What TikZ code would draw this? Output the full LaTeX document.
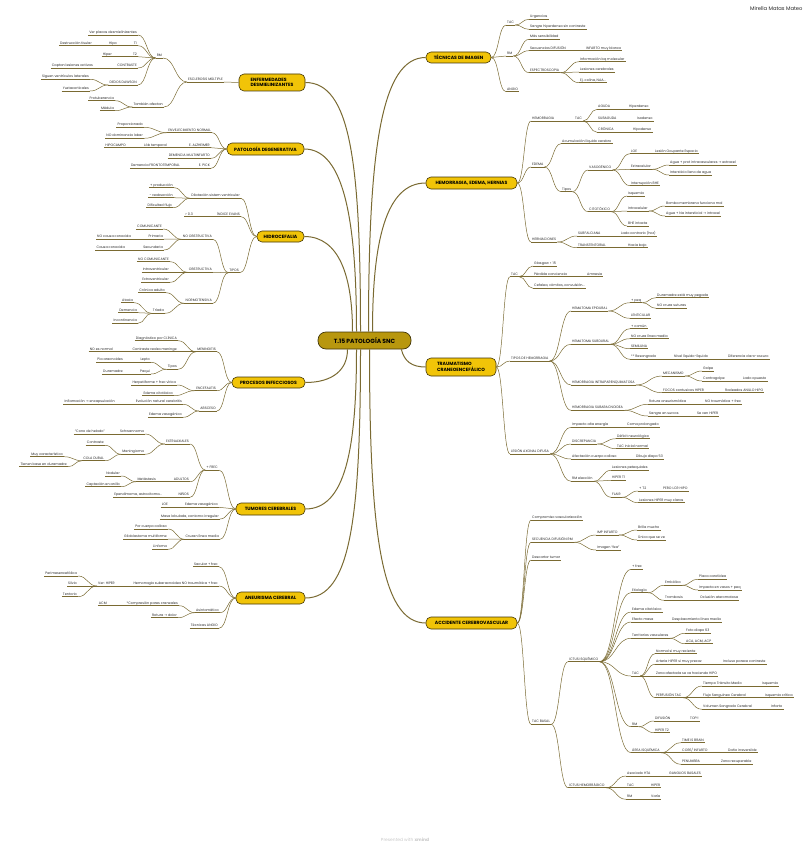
\documentclass[tikz,border=0pt]{standalone}
\usepackage{fontspec}
\setmainfont{Poppins}
\newfontfamily\arrowfont{DejaVu Sans}
\usetikzlibrary{calc}

\definecolor{branch}{RGB}{122,106,50}
\definecolor{topicfill}{RGB}{241,196,8}
\definecolor{topicline}{RGB}{66,54,8}
\definecolor{rootfill}{RGB}{184,151,14}
\definecolor{leaftext}{RGB}{40,40,40}

\newcommand\leafsize{\fontsize{3.4}{4}\selectfont}
\newcommand\topicsize{\fontsize{4.6}{5.6}\selectfont}
\newcommand\rootsize{\fontsize{6}{7}\selectfont}
\newcommand\toarrow{{\arrowfont →}}

\begin{document}
\begin{tikzpicture}[x=1pt, y=-1pt,
    leaf/.style={font=\leafsize, text=leaftext, inner xsep=1pt, inner ysep=0.7pt,
                 text height=2.5pt, text depth=0.6pt,
                 append after command={(\tikzlastnode.south west) edge[uline] (\tikzlastnode.south east)}},
    rleaf/.style={leaf, anchor=south west},
    lleaf/.style={leaf, anchor=south east},
    uline/.style={draw=branch, line width=0.5pt},
    link/.style={draw=branch, line width=0.5pt,
                 to path={let \p1=(\tikztostart), \p2=(\tikztotarget) in
                   .. controls ({0.5*\x1+0.5*\x2},\y1) and ({0.5*\x1+0.5*\x2},\y2) .. (\tikztotarget)}},
    mainlink/.style={draw=branch, line width=1pt},
    topic/.style={draw=topicline, line width=0.6pt, fill=topicfill, rounded corners=5pt,
                  font=\topicsize\bfseries, align=left, inner sep=0pt},
    rootbox/.style={draw=topicline, line width=0.7pt, fill=rootfill, rounded corners=8pt,
                    font=\rootsize\bfseries, minimum width=93pt, minimum height=17pt}
  ]
  \useasboundingbox (0,0) rectangle (809,848);

  % central topic and main branches
  \node[rootbox] (root) at (364.5,340.5) {T.15 PATOLOGÍA SNC};
  \node[topic, minimum width=65pt, minimum height=11pt] (tec) at (458.5,57.5) {TÉCNICAS DE IMAGEN};
  \node[topic, minimum width=91pt, minimum height=12pt] (hem) at (471.5,183) {HEMORRAGIA, EDEMA, HERNIAS};
  \node[topic, minimum width=70pt, minimum height=18pt] (tce) at (461,367) {TRAUMATISMO\\CRANEOENCEFÁLICO};
  \node[topic, minimum width=91pt, minimum height=12pt] (acv) at (471.5,623) {ACCIDENTE CEREBROVASCULAR};
  \node[topic, minimum width=66pt, minimum height=17pt] (desm) at (272,82.5) {ENFERMEDADES\\DESMIELINIZANTES};
  \node[topic, minimum width=77pt, minimum height=12pt] (deg) at (265.5,149) {PATOLOGÍA DEGENERATIVA};
  \node[topic, minimum width=47pt, minimum height=11pt] (hidro) at (280.5,236.5) {HIDROCEFALIA};
  \node[topic, minimum width=73pt, minimum height=11pt] (infec) at (268.5,382.5) {PROCESOS INFECCIOSOS};
  \node[topic, minimum width=69pt, minimum height=12pt] (tum) at (270.5,509) {TUMORES CEREBRALES};
  \node[topic, minimum width=69pt, minimum height=12pt] (aneu) at (270.5,598) {ANEURISMA CEREBRAL};

  \draw[mainlink] ([xshift=-4pt]root.north) .. controls +(0,-170) and +(45,0) .. (desm.east);
  \draw[mainlink] ([xshift=-8pt]root.north) .. controls +(0,-110) and +(40,0) .. (deg.east);
  \draw[mainlink] ([xshift=-12pt]root.north) .. controls +(0,-55) and +(35,0) .. (hidro.east);
  \draw[mainlink] ([xshift=4pt]root.north) .. controls +(0,-180) and +(-45,0) .. (tec.west);
  \draw[mainlink] ([xshift=8pt]root.north) .. controls +(0,-90) and +(-40,0) .. (hem.west);
  \draw[mainlink] ([xshift=-17pt]root.south) .. controls +(0,20) and +(28,0) .. (infec.east);
  \draw[mainlink] ([xshift=-8pt]root.south) .. controls +(0,100) and +(40,0) .. (tum.east);
  \draw[mainlink] ([xshift=-4pt]root.south) .. controls +(0,170) and +(45,0) .. (aneu.east);
  \draw[mainlink] ([xshift=5pt]root.south) .. controls +(0,180) and +(-45,0) .. (acv.west);
  \draw[mainlink] ([xshift=-10pt]root.south east) .. controls +(3,12) and +(-14,0) .. (tce.west);

  % enfermedades desmielinizantes
  \node[lleaf] (em) at (224,82) {ESCLEROSIS MÚLTIPLE};
  \node[lleaf] (rm) at (163,58) {RM};
  \node[lleaf] (afect) at (164,107) {También afectan};
  \node[lleaf] (placas) at (138,35) {Ver placas desmielinizantes};
  \node[lleaf] (tuno) at (138,45.7) {T1};
  \node[lleaf] (hipo) at (118,45.7) {Hipo};
  \node[lleaf] (destr) at (93,45.7) {Destrucción tisular};
  \node[lleaf] (tdos) at (138,56.7) {T2};
  \node[lleaf] (hiper) at (113,56.7) {Hiper};
  \node[lleaf] (contr) at (138,68) {CONTRASTE};
  \node[lleaf] (captan) at (94,68) {Captan lesiones activas};
  \node[lleaf] (dawson) at (138,85) {DEDOS DAWSON};
  \node[lleaf] (siguen) at (90,79.3) {Siguen ventrículos laterales};
  \node[lleaf] (yuxta) at (90,91) {Yuxtacorticales};
  \node[lleaf] (protu) at (115,100.7) {Protuberancia};
  \node[lleaf] (medula) at (115,110.7) {Médula};

  \draw[link] (desm.west) to (em.south east);
  \draw[link] (em.south west) to (rm.south east);
  \draw[link] (em.south west) to (afect.south east);
  \draw[link] (rm.south west) to (placas.south east);
  \draw[link] (rm.south west) to (tuno.south east);
  \draw[link] (rm.south west) to (tdos.south east);
  \draw[link] (rm.south west) to (contr.south east);
  \draw[link] (rm.south west) to (dawson.south east);
  \draw[link] (tuno.south west) to (hipo.south east);
  \draw[link] (hipo.south west) to (destr.south east);
  \draw[link] (tdos.south west) to (hiper.south east);
  \draw[link] (contr.south west) to (captan.south east);
  \draw[link] (dawson.south west) to (siguen.south east);
  \draw[link] (dawson.south west) to (yuxta.south east);
  \draw[link] (afect.south west) to (protu.south east);
  \draw[link] (afect.south west) to (medula.south east);

  % patologia degenerativa
  \node[lleaf] (envej) at (212,132.7) {ENVEJECIMIENTO NORMAL};
  \node[lleaf] (propor) at (144,127.3) {Proporcionado};
  \node[lleaf] (nodom) at (144,138.3) {NO dominancia lobar};
  \node[lleaf] (alzh) at (211,147.7) {E. ALZHEIMER};
  \node[lleaf] (lobt) at (168,147.7) {Lób temporal};
  \node[lleaf] (hipoc) at (127,147.7) {HIPOCAMPO};
  \node[lleaf] (multi) at (211,158.3) {DEMENCIA MULTIINFARTO};
  \node[lleaf] (pick) at (211,168.3) {E. PICK};
  \node[lleaf] (fronto) at (181,168.3) {Demencia FRONTOTEMPORAL};

  \draw[link] (deg.west) to (envej.south east);
  \draw[link] (deg.west) to (alzh.south east);
  \draw[link] (deg.west) to (multi.south east);
  \draw[link] (deg.west) to (pick.south east);
  \draw[link] (envej.south west) to (propor.south east);
  \draw[link] (envej.south west) to (nodom.south east);
  \draw[link] (alzh.south west) to (lobt.south east);
  \draw[link] (lobt.south west) to (hipoc.south east);
  \draw[link] (pick.south west) to (fronto.south east);

  % hidrocefalia
  \node[lleaf] (dilat) at (241,198.3) {Dilatación sistem ventricular};
  \node[lleaf] (prod) at (174,187.7) {+ producción};
  \node[lleaf] (reab) at (174,197.7) {- reabsorción};
  \node[lleaf] (dific) at (173,207.7) {Dificultad flujo};
  \node[lleaf] (evans) at (241,216.7) {ÍNDICE EVANS};
  \node[lleaf] (mayor) at (194,216.7) {> 0.3};
  \node[lleaf] (tipos) at (240,272.7) {TIPOS};
  \node[lleaf] (noobs) at (213,239.3) {NO OBSTRUCTIVA};
  \node[lleaf] (comun) at (163,229) {COMUNICANTE};
  \node[lleaf] (prim) at (164,239) {Primaria};
  \node[lleaf] (nocausa) at (132,239) {NO causa conocida};
  \node[lleaf] (secund) at (164,250) {Secundaria};
  \node[lleaf] (causa) at (126,250) {Causa conocida};
  \node[lleaf] (obs) at (213,272.3) {OBSTRUCTIVA};
  \node[lleaf] (nocom) at (170,261.7) {NO COMUNICANTE};
  \node[lleaf] (intrav) at (170,272.3) {Intraventricular};
  \node[lleaf] (extrav) at (170,282.3) {Extraventricular};
  \node[lleaf] (normo) at (213,303.3) {NORMOTENSIVA};
  \node[lleaf] (cronica) at (166,292.7) {Crónica adulto};
  \node[lleaf] (triada) at (165,313.3) {Tríada};
  \node[lleaf] (ataxia) at (134,302.7) {Ataxia};
  \node[lleaf] (demen) at (138,312.7) {Demencia};
  \node[lleaf] (incont) at (138,323.3) {Incontinencia};

  \draw[link] (hidro.west) to (dilat.south east);
  \draw[link] (hidro.west) to (evans.south east);
  \draw[link] (hidro.west) to (tipos.south east);
  \draw[link] (dilat.south west) to (prod.south east);
  \draw[link] (dilat.south west) to (reab.south east);
  \draw[link] (dilat.south west) to (dific.south east);
  \draw[link] (evans.south west) to (mayor.south east);
  \draw[link] (tipos.south west) to (noobs.south east);
  \draw[link] (tipos.south west) to (obs.south east);
  \draw[link] (tipos.south west) to (normo.south east);
  \draw[link] (noobs.south west) to (comun.south east);
  \draw[link] (noobs.south west) to (prim.south east);
  \draw[link] (noobs.south west) to (secund.south east);
  \draw[link] (prim.south west) to (nocausa.south east);
  \draw[link] (secund.south west) to (causa.south east);
  \draw[link] (obs.south west) to (nocom.south east);
  \draw[link] (obs.south west) to (intrav.south east);
  \draw[link] (obs.south west) to (extrav.south east);
  \draw[link] (normo.south west) to (cronica.south east);
  \draw[link] (normo.south west) to (triada.south east);
  \draw[link] (triada.south west) to (ataxia.south east);
  \draw[link] (triada.south west) to (demen.south east);
  \draw[link] (triada.south west) to (incont.south east);

  % procesos infecciosos
  \node[lleaf] (menin) at (217,351.7) {MENINGITIS};
  \node[lleaf] (diagn) at (178,340.7) {Diagnóstico por CLÍNICA};
  \node[lleaf] (realza) at (178,351.7) {Contraste realza meninge};
  \node[lleaf] (noesn) at (114,351.7) {NO es normal};
  \node[lleaf] (mtipos) at (178,369.3) {Tipos};
  \node[lleaf] (lepto) at (151,362.3) {Lepto};
  \node[lleaf] (pia) at (124,362.3) {Pia aracnoides};
  \node[lleaf] (paqui) at (151,374) {Paqui};
  \node[lleaf] (dura) at (124,374) {Duramadre};
  \node[lleaf] (encef) at (217,390.7) {ENCEFALITIS};
  \node[lleaf] (herpe) at (177,385) {Herpetiforme + frec vírica};
  \node[lleaf] (edcito) at (174,395.7) {Edema citotóxico};
  \node[lleaf] (absc) at (217,411) {ABSCESO};
  \node[lleaf] (evol) at (183,404.3) {Evolución natural cerebritis};
  \node[lleaf] (inflam) at (116,404.3) {Inflamación \toarrow{} encapsulación};
  \node[lleaf] (edvaso) at (183,417.3) {Edema vasogénico};

  \draw[link] (infec.west) to (menin.south east);
  \draw[link] (infec.west) to (encef.south east);
  \draw[link] (infec.west) to (absc.south east);
  \draw[link] (menin.south west) to (diagn.south east);
  \draw[link] (menin.south west) to (realza.south east);
  \draw[link] (menin.south west) to (mtipos.south east);
  \draw[link] (realza.south west) to (noesn.south east);
  \draw[link] (mtipos.south west) to (lepto.south east);
  \draw[link] (mtipos.south west) to (paqui.south east);
  \draw[link] (lepto.south west) to (pia.south east);
  \draw[link] (paqui.south west) to (dura.south east);
  \draw[link] (encef.south west) to (herpe.south east);
  \draw[link] (encef.south west) to (edcito.south east);
  \draw[link] (absc.south west) to (evol.south east);
  \draw[link] (absc.south west) to (edvaso.south east);
  \draw[link] (evol.south west) to (inflam.south east);

  % tumores cerebrales
  \node[lleaf] (frec) at (219,470) {+ FREC};
  \node[lleaf] (extra) at (190,444) {EXTRAAXIALES};
  \node[lleaf] (schwa) at (145,434) {Schwannoma};
  \node[lleaf] (cono) at (106,434) {“Cono de helado”};
  \node[lleaf] (mening) at (145,454.3) {Meningioma};
  \node[lleaf] (mcontr) at (105,445.3) {Contraste};
  \node[lleaf] (cola) at (105,460.7) {COLA DURAL};
  \node[lleaf] (muycar) at (64,456.7) {Muy característico};
  \node[lleaf] (durabase) at (68,466.7) {Tienen base en duramadre};
  \node[lleaf] (adult) at (190,481.7) {ADULTOS};
  \node[lleaf] (metas) at (157,481.7) {Metástasis};
  \node[lleaf] (nodul) at (121,476) {Nodular};
  \node[lleaf] (anillo) at (121,486.7) {Captación en anillo};
  \node[lleaf] (ninos) at (190,497.3) {NIÑOS};
  \node[lleaf] (epend) at (163,497.3) {Ependimoma, astrocitoma...};
  \node[lleaf] (tedema) at (219,507.3) {Edema vasogénico};
  \node[lleaf] (loe) at (169,507.3) {LOE};
  \node[lleaf] (masa) at (220,519) {Masa lobulada, contorno irregular};
  \node[lleaf] (cruzan) at (220,539.3) {Cruzan línea media};
  \node[lleaf] (calloso) at (168,529) {Por cuerpo calloso};
  \node[lleaf] (gliob) at (168,539) {Glioblastoma multiforme};
  \node[lleaf] (linfoma) at (168,549.3) {Linfoma};

  \draw[link] (tum.west) to (frec.south east);
  \draw[link] (tum.west) to (tedema.south east);
  \draw[link] (tum.west) to (masa.south east);
  \draw[link] (tum.west) to (cruzan.south east);
  \draw[link] (frec.south west) to (extra.south east);
  \draw[link] (frec.south west) to (adult.south east);
  \draw[link] (frec.south west) to (ninos.south east);
  \draw[link] (extra.south west) to (schwa.south east);
  \draw[link] (extra.south west) to (mening.south east);
  \draw[link] (schwa.south west) to (cono.south east);
  \draw[link] (mening.south west) to (mcontr.south east);
  \draw[link] (mening.south west) to (cola.south east);
  \draw[link] (cola.south west) to (muycar.south east);
  \draw[link] (cola.south west) to (durabase.south east);
  \draw[link] (adult.south west) to (metas.south east);
  \draw[link] (metas.south west) to (nodul.south east);
  \draw[link] (metas.south west) to (anillo.south east);
  \draw[link] (ninos.south west) to (epend.south east);
  \draw[link] (tedema.south west) to (loe.south east);
  \draw[link] (cruzan.south west) to (calloso.south east);
  \draw[link] (cruzan.south west) to (gliob.south east);
  \draw[link] (cruzan.south west) to (linfoma.south east);

  % aneurisma cerebral
  \node[lleaf] (sacular) at (219,566.7) {Sacular + frec};
  \node[lleaf] (hsa) at (219,586) {Hemorragia subaracnoidea NO traumática + frec};
  \node[lleaf] (verh) at (116,586) {Ver: HIPER};
  \node[lleaf] (perim) at (78,576) {Perimesencefálica};
  \node[lleaf] (silvio) at (78,586) {Silvio};
  \node[lleaf] (tento) at (78,596.7) {Tentorio};
  \node[lleaf] (asint) at (220,612.7) {Asintomático};
  \node[lleaf] (compr) at (179,605.7) {*Compresión pares craneales};
  \node[lleaf] (acm) at (108,605.7) {ACM};
  \node[lleaf] (rotura) at (178,617.7) {Rotura \toarrow{} dolor};
  \node[lleaf] (angio) at (219,628.3) {Técnicas ANGIO};

  \draw[link] (aneu.west) to (sacular.south east);
  \draw[link] (aneu.west) to (hsa.south east);
  \draw[link] (aneu.west) to (asint.south east);
  \draw[link] (aneu.west) to (angio.south east);
  \draw[link] (hsa.south west) to (verh.south east);
  \draw[link] (verh.south west) to (perim.south east);
  \draw[link] (verh.south west) to (silvio.south east);
  \draw[link] (verh.south west) to (tento.south east);
  \draw[link] (asint.south west) to (compr.south east);
  \draw[link] (asint.south west) to (rotura.south east);
  \draw[link] (compr.south west) to (acm.south east);

  % tecnicas de imagen
  \node[rleaf] (ttac) at (506,25) {TAC};
  \node[rleaf] (urg) at (529,19.3) {Urgencias};
  \node[rleaf] (sangre) at (529,29.3) {Sangre hiperdensa sin contraste};
  \node[rleaf] (trm) at (506,56) {RM};
  \node[rleaf] (sensib) at (529,39.3) {Más sensibilidad};
  \node[rleaf] (difu) at (529,50.7) {Secuencias DIFUSIÓN};
  \node[rleaf] (infarto) at (585,50.7) {INFARTO muy blanco};
  \node[rleaf] (espec) at (529,72.7) {ESPECTROSCOPIA};
  \node[rleaf] (infobq) at (579,61.7) {Información bq molecular};
  \node[rleaf] (lesc) at (579,72) {Lesiones cerebrales};
  \node[rleaf] (colina) at (579,82.7) {Ej. colina, NAA...};
  \node[rleaf] (tangio) at (506,91.7) {ANGIO};

  \draw[link] (tec.east) to (ttac.south west);
  \draw[link] (tec.east) to (trm.south west);
  \draw[link] (tec.east) to (tangio.south west);
  \draw[link] (ttac.south east) to (urg.south west);
  \draw[link] (ttac.south east) to (sangre.south west);
  \draw[link] (trm.south east) to (sensib.south west);
  \draw[link] (trm.south east) to (difu.south west);
  \draw[link] (trm.south east) to (espec.south west);
  \draw[link] (difu.south east) to (infarto.south west);
  \draw[link] (espec.south east) to (infobq.south west);
  \draw[link] (espec.south east) to (lesc.south west);
  \draw[link] (espec.south east) to (colina.south west);

  % hemorragia, edema, hernias
  \node[rleaf] (hhem) at (531,121) {HEMORRAGIA};
  \node[rleaf] (htac) at (574,121) {TAC};
  \node[rleaf] (aguda) at (597,109.3) {AGUDA};
  \node[rleaf] (hiperd) at (628,109.3) {Hiperdenso};
  \node[rleaf] (subag) at (597,121) {SUBAGUDA};
  \node[rleaf] (isod) at (636,121) {Isodenso};
  \node[rleaf] (cron) at (597,132.3) {CRÓNICA};
  \node[rleaf] (hipod) at (632,132.3) {Hipodenso};
  \node[rleaf] (edema) at (531,167) {EDEMA};
  \node[rleaf] (acum) at (561,143.7) {Acumulación líquido cerebro};
  \node[rleaf] (etipos) at (561,191.7) {Tipos};
  \node[rleaf] (vaso) at (588,170) {VASOGÉNICO};
  \node[rleaf] (vloe) at (630,153.7) {LOE};
  \node[rleaf] (lesion) at (654,153.7) {Lesión Ocupante Espacio};
  \node[rleaf] (extrac) at (630,169.3) {Extracelular};
  \node[rleaf] (aguaprot) at (669,165) {Agua + prot intravasculares \toarrow{} extracel};
  \node[rleaf] (inters) at (669,175) {Intersticio lleno de agua};
  \node[rleaf] (interr) at (630,185.7) {Interrupción BHE};
  \node[rleaf] (cito) at (588,211.7) {CITOTÓXICO};
  \node[rleaf] (isq) at (627,196) {Isquemia};
  \node[rleaf] (intrac) at (627,211) {Intracelular};
  \node[rleaf] (bomba) at (665,206) {Bomba membrana funciona mal};
  \node[rleaf] (aguana) at (665,216) {Agua + Na intersticial \toarrow{} intracel};
  \node[rleaf] (bhe) at (627,226) {BHE intacta};
  \node[rleaf] (hern) at (531,242) {HERNIACIONES};
  \node[rleaf] (subf) at (577,236) {SUBFALCIANA};
  \node[rleaf] (lado) at (620,236) {Lado contrario (hoz)};
  \node[rleaf] (trans) at (577,247.7) {TRANSTENTORIAL};
  \node[rleaf] (hacia) at (627,247.7) {Hacia bajo};

  \draw[link] (hem.east) to (hhem.south west);
  \draw[link] (hem.east) to (edema.south west);
  \draw[link] (hem.east) to (hern.south west);
  \draw[link] (hhem.south east) to (htac.south west);
  \draw[link] (htac.south east) to (aguda.south west);
  \draw[link] (htac.south east) to (subag.south west);
  \draw[link] (htac.south east) to (cron.south west);
  \draw[link] (aguda.south east) to (hiperd.south west);
  \draw[link] (subag.south east) to (isod.south west);
  \draw[link] (cron.south east) to (hipod.south west);
  \draw[link] (edema.south east) to (acum.south west);
  \draw[link] (edema.south east) to (etipos.south west);
  \draw[link] (etipos.south east) to (vaso.south west);
  \draw[link] (etipos.south east) to (cito.south west);
  \draw[link] (vaso.south east) to (vloe.south west);
  \draw[link] (vaso.south east) to (extrac.south west);
  \draw[link] (vaso.south east) to (interr.south west);
  \draw[link] (vloe.south east) to (lesion.south west);
  \draw[link] (extrac.south east) to (aguaprot.south west);
  \draw[link] (extrac.south east) to (inters.south west);
  \draw[link] (cito.south east) to (isq.south west);
  \draw[link] (cito.south east) to (intrac.south west);
  \draw[link] (cito.south east) to (bhe.south west);
  \draw[link] (intrac.south east) to (bomba.south west);
  \draw[link] (intrac.south east) to (aguana.south west);
  \draw[link] (hern.south east) to (subf.south west);
  \draw[link] (hern.south east) to (trans.south west);
  \draw[link] (subf.south east) to (lado.south west);
  \draw[link] (trans.south east) to (hacia.south west);

  % traumatismo craneoencefalico
  \node[rleaf] (ctac) at (510,276.7) {TAC};
  \node[rleaf] (glas) at (533,266) {Glasgow < 15};
  \node[rleaf] (perd) at (533,276.7) {Pérdida conciencia};
  \node[rleaf] (amne) at (586,276.7) {Amnesia};
  \node[rleaf] (cefa) at (533,288.3) {Cefalea, vómitos, convulsión...};
  \node[rleaf] (them) at (510,361) {TIPOS DE HEMORRAGIA};
  \node[rleaf] (epid) at (571,311) {HEMATOMA EPIDURAL};
  \node[rleaf] (peq) at (630,302.7) {+ peq};
  \node[rleaf] (pegada) at (656,297.7) {Duramadre está muy pegada};
  \node[rleaf] (suturas) at (656,308.3) {NO cruza suturas};
  \node[rleaf] (lentic) at (630,318.3) {LENTICULAR};
  \node[rleaf] (subd) at (571,344.3) {HEMATOMA SUBDURAL};
  \node[rleaf] (scomun) at (630,328.7) {+ común};
  \node[rleaf] (nocruza) at (630,338.7) {NO cruza línea media};
  \node[rleaf] (semil) at (630,348.7) {SEMILUNA};
  \node[rleaf] (resang) at (630,359.3) {** Resangrado};
  \node[rleaf] (nivel) at (673,359.3) {Nivel líquido-líquido};
  \node[rleaf] (difcl) at (727,359.3) {Diferencia claro-oscuro};
  \node[rleaf] (intrap) at (571,385) {HEMORRAGIA INTRAPARENQUIMATOSA};
  \node[rleaf] (mecan) at (662,376) {MECANISMO};
  \node[rleaf] (golpe) at (702,371) {Golpe};
  \node[rleaf] (contrag) at (702,381) {Contragolpe};
  \node[rleaf] (opuesto) at (742,381) {Lado opuesto};
  \node[rleaf] (focos) at (662,392.7) {FOCOS contusivos HIPER};
  \node[rleaf] (rodead) at (724,392.7) {Rodeados ANILLO HIPO};
  \node[rleaf] (subar) at (571,410.3) {HEMORRAGIA SUBARACNOIDEA};
  \node[rleaf] (rotan) at (648,404.3) {Rotura aneurismática};
  \node[rleaf] (notrau) at (704,404.3) {NO traumática + frec};
  \node[rleaf] (surcos) at (648,416) {Sangre en surcos};
  \node[rleaf] (seven) at (696,416) {Se ven HIPER};
  \node[rleaf] (axonal) at (510,454) {LESIÓN AXONAL DIFUSA};
  \node[rleaf] (impac) at (571,427.3) {Impacto alta energía};
  \node[rleaf] (coma) at (626,427.3) {Coma prolongado};
  \node[rleaf] (discr) at (571,444) {DISCREPANCIA};
  \node[rleaf] (defic) at (616,438.7) {Déficit neurológico};
  \node[rleaf] (tacini) at (616,448.7) {TAC inicial normal};
  \node[rleaf] (afcal) at (571,459) {Afectación cuerpo calloso};
  \node[rleaf] (dibujo) at (635,459) {Dibujo diapo 53};
  \node[rleaf] (rmel) at (571,481.3) {RM elección};
  \node[rleaf] (petequ) at (611,470.3) {Lesiones petequiales};
  \node[rleaf] (hipert1) at (611,480.3) {HIPER T1};
  \node[rleaf] (flair) at (611,497.3) {FLAIR};
  \node[rleaf] (ftdos) at (638,491) {+ T2};
  \node[rleaf] (lcr) at (662,491) {PERO LCR HIPO};
  \node[rleaf] (claras) at (638,502.7) {Lesiones HIPER muy claras};

  \draw[link] (tce.east) to (ctac.south west);
  \draw[link] (tce.east) to (them.south west);
  \draw[link] (tce.east) to (axonal.south west);
  \draw[link] (ctac.south east) to (glas.south west);
  \draw[link] (ctac.south east) to (perd.south west);
  \draw[link] (ctac.south east) to (cefa.south west);
  \draw[link] (perd.south east) to (amne.south west);
  \draw[link] (them.south east) to (epid.south west);
  \draw[link] (them.south east) to (subd.south west);
  \draw[link] (them.south east) to (intrap.south west);
  \draw[link] (them.south east) to (subar.south west);
  \draw[link] (epid.south east) to (peq.south west);
  \draw[link] (epid.south east) to (lentic.south west);
  \draw[link] (peq.south east) to (pegada.south west);
  \draw[link] (peq.south east) to (suturas.south west);
  \draw[link] (subd.south east) to (scomun.south west);
  \draw[link] (subd.south east) to (nocruza.south west);
  \draw[link] (subd.south east) to (semil.south west);
  \draw[link] (subd.south east) to (resang.south west);
  \draw[link] (resang.south east) to (nivel.south west);
  \draw[link] (nivel.south east) to (difcl.south west);
  \draw[link] (intrap.south east) to (mecan.south west);
  \draw[link] (intrap.south east) to (focos.south west);
  \draw[link] (mecan.south east) to (golpe.south west);
  \draw[link] (mecan.south east) to (contrag.south west);
  \draw[link] (contrag.south east) to (opuesto.south west);
  \draw[link] (focos.south east) to (rodead.south west);
  \draw[link] (subar.south east) to (rotan.south west);
  \draw[link] (subar.south east) to (surcos.south west);
  \draw[link] (rotan.south east) to (notrau.south west);
  \draw[link] (surcos.south east) to (seven.south west);
  \draw[link] (axonal.south east) to (impac.south west);
  \draw[link] (axonal.south east) to (discr.south west);
  \draw[link] (axonal.south east) to (afcal.south west);
  \draw[link] (axonal.south east) to (rmel.south west);
  \draw[link] (impac.south east) to (coma.south west);
  \draw[link] (discr.south east) to (defic.south west);
  \draw[link] (discr.south east) to (tacini.south west);
  \draw[link] (afcal.south east) to (dibujo.south west);
  \draw[link] (rmel.south east) to (petequ.south west);
  \draw[link] (rmel.south east) to (hipert1.south west);
  \draw[link] (rmel.south east) to (flair.south west);
  \draw[link] (flair.south east) to (ftdos.south west);
  \draw[link] (flair.south east) to (claras.south west);
  \draw[link] (ftdos.south east) to (lcr.south west);

  % accidente cerebrovascular
  \node[rleaf] (compro) at (531,520) {Compromiso vascularización};
  \node[rleaf] (secdif) at (531,542.3) {SECUENCIA DIFUSIÓN RM};
  \node[rleaf] (imp) at (596,535) {IMP INFARTO};
  \node[rleaf] (brilla) at (637,530) {Brilla mucho};
  \node[rleaf] (unico) at (637,540) {Único que se ve};
  \node[rleaf] (fea) at (596,550) {Imagen “fea”};
  \node[rleaf] (desc) at (531,560) {Descartar tumor};
  \node[rleaf] (basal) at (531,724.3) {TAC BASAL};
  \node[rleaf] (isqu) at (568,661.7) {ICTUS ISQUÉMICO};
  \node[rleaf] (ifrec) at (631,569.3) {+ frec};
  \node[rleaf] (etiol) at (631,592.7) {Etiología};
  \node[rleaf] (embol) at (664,585.3) {Embólico};
  \node[rleaf] (placa) at (698,579.3) {Placa carotídea};
  \node[rleaf] (impacta) at (698,590) {Impacta en vasos + peq};
  \node[rleaf] (tromb) at (664,600.3) {Trombosis};
  \node[rleaf] (oclus) at (699,600.3) {Oclusión ateromatosa};
  \node[rleaf] (aedema) at (631,612) {Edema citotóxico};
  \node[rleaf] (efecto) at (631,622) {Efecto masa};
  \node[rleaf] (despl) at (671,622) {Desplazamiento línea media};
  \node[rleaf] (territ) at (631,638.3) {Territorios vasculares};
  \node[rleaf] (foto) at (685,633.3) {Foto diapo 63};
  \node[rleaf] (aca) at (685,643.7) {ACA, ACM, ACP};
  \node[rleaf] (itac) at (631,676) {TAC};
  \node[rleaf] (normal) at (655,653.7) {Normal si muy reciente};
  \node[rleaf] (arteria) at (655,664.3) {Arteria HIPER si muy precoz};
  \node[rleaf] (incluso) at (722,664.3) {Incluso parece contraste};
  \node[rleaf] (zona) at (655,676) {Zona afectada se va haciendo HIPO};
  \node[rleaf] (perf) at (655,697.7) {PERFUSIÓN TAC};
  \node[rleaf] (ttm) at (702,686) {Tiempo Tránsito Medio};
  \node[rleaf] (tisq) at (761,686) {Isquemia};
  \node[rleaf] (fsc) at (702,697.7) {Flujo Sanguíneo Cerebral};
  \node[rleaf] (isqcrit) at (764,697.7) {Isquemia crítica};
  \node[rleaf] (vsc) at (702,709.3) {Volumen Sangrado Cerebral};
  \node[rleaf] (infart) at (770,709.3) {Infarto};
  \node[rleaf] (irm) at (631,726.7) {RM};
  \node[rleaf] (idif) at (654,721) {DIFUSIÓN};
  \node[rleaf] (topdif) at (689,721) {TOP!!};
  \node[rleaf] (ihipt2) at (654,732.7) {HIPER T2};
  \node[rleaf] (area) at (631,752.7) {ÁREA ISQUÉMICA};
  \node[rleaf] (timeb) at (681,742.7) {TIME IS BRAIN};
  \node[rleaf] (core) at (681,752.7) {CORE/ INFARTO};
  \node[rleaf] (dano) at (727,752.7) {Daño irreversible};
  \node[rleaf] (penum) at (681,764.3) {PENUMBRA};
  \node[rleaf] (recup) at (720,764.3) {Zona recuperable};
  \node[rleaf] (hemorr) at (568,787.7) {ICTUS HEMORRÁGICO};
  \node[rleaf] (hta) at (626,776) {Asociado HTA};
  \node[rleaf] (gangl) at (668,776) {GANGLIOS BASALES};
  \node[rleaf] (htac2) at (626,787.7) {TAC};
  \node[rleaf] (hhiper) at (650,787.7) {HIPER};
  \node[rleaf] (hrm) at (626,799.3) {RM};
  \node[rleaf] (varia) at (650,799.3) {Varía};

  \draw[link] (acv.east) to (compro.south west);
  \draw[link] (acv.east) to (secdif.south west);
  \draw[link] (acv.east) to (desc.south west);
  \draw[link] (acv.east) to (basal.south west);
  \draw[link] (secdif.south east) to (imp.south west);
  \draw[link] (secdif.south east) to (fea.south west);
  \draw[link] (imp.south east) to (brilla.south west);
  \draw[link] (imp.south east) to (unico.south west);
  \draw[link] (basal.south east) to (isqu.south west);
  \draw[link] (basal.south east) to (hemorr.south west);
  \draw[link] (isqu.south east) to (ifrec.south west);
  \draw[link] (isqu.south east) to (etiol.south west);
  \draw[link] (isqu.south east) to (aedema.south west);
  \draw[link] (isqu.south east) to (efecto.south west);
  \draw[link] (isqu.south east) to (territ.south west);
  \draw[link] (isqu.south east) to (itac.south west);
  \draw[link] (isqu.south east) to (irm.south west);
  \draw[link] (isqu.south east) to (area.south west);
  \draw[link] (etiol.south east) to (embol.south west);
  \draw[link] (etiol.south east) to (tromb.south west);
  \draw[link] (embol.south east) to (placa.south west);
  \draw[link] (embol.south east) to (impacta.south west);
  \draw[link] (tromb.south east) to (oclus.south west);
  \draw[link] (efecto.south east) to (despl.south west);
  \draw[link] (territ.south east) to (foto.south west);
  \draw[link] (territ.south east) to (aca.south west);
  \draw[link] (itac.south east) to (normal.south west);
  \draw[link] (itac.south east) to (arteria.south west);
  \draw[link] (itac.south east) to (zona.south west);
  \draw[link] (itac.south east) to (perf.south west);
  \draw[link] (arteria.south east) to (incluso.south west);
  \draw[link] (perf.south east) to (ttm.south west);
  \draw[link] (perf.south east) to (fsc.south west);
  \draw[link] (perf.south east) to (vsc.south west);
  \draw[link] (ttm.south east) to (tisq.south west);
  \draw[link] (fsc.south east) to (isqcrit.south west);
  \draw[link] (vsc.south east) to (infart.south west);
  \draw[link] (irm.south east) to (idif.south west);
  \draw[link] (irm.south east) to (ihipt2.south west);
  \draw[link] (idif.south east) to (topdif.south west);
  \draw[link] (area.south east) to (timeb.south west);
  \draw[link] (area.south east) to (core.south west);
  \draw[link] (area.south east) to (penum.south west);
  \draw[link] (core.south east) to (dano.south west);
  \draw[link] (penum.south east) to (recup.south west);
  \draw[link] (hemorr.south east) to (hta.south west);
  \draw[link] (hemorr.south east) to (htac2.south west);
  \draw[link] (hemorr.south east) to (hrm.south west);
  \draw[link] (hta.south east) to (gangl.south west);
  \draw[link] (htac2.south east) to (hhiper.south west);
  \draw[link] (hrm.south east) to (varia.south west);

  % author and footer
  \node[anchor=north east, font=\fontsize{5.2}{6}\selectfont, text=black!85] (author) at (806,3) {Mirella Matas Mateo};
  \node[font=\fontsize{4.4}{5}\selectfont, text=black!22] (credit) at (405,840) {Presented with \textbf{xmind}};
\end{tikzpicture}
\end{document}
